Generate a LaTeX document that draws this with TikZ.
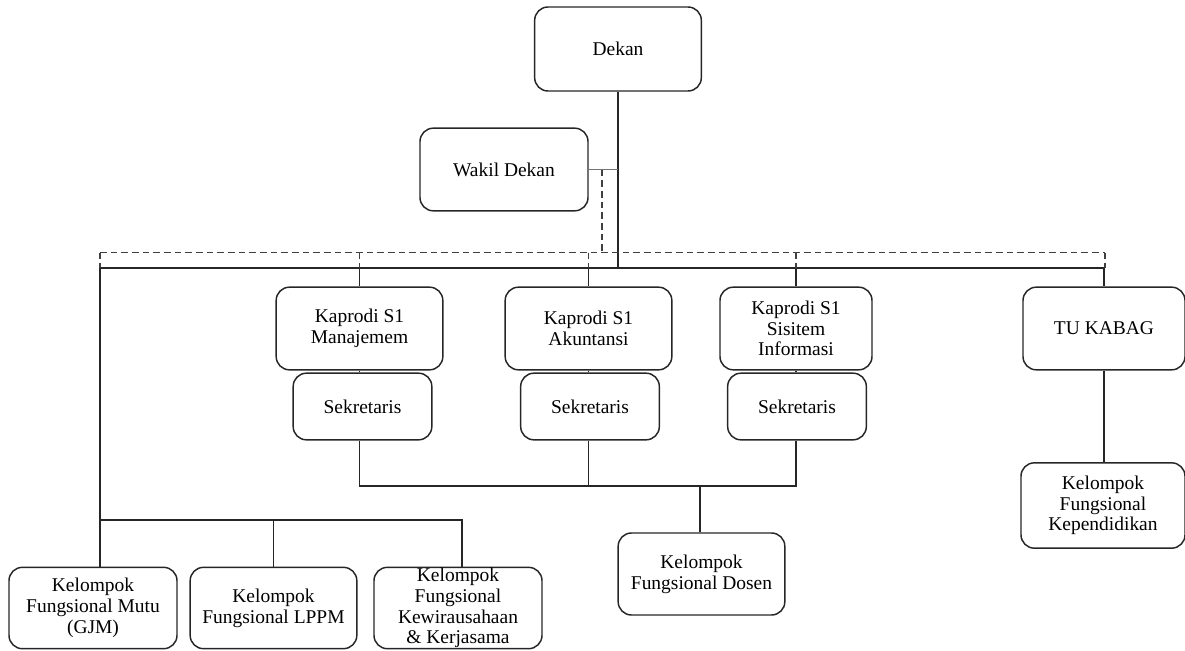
\documentclass[tikz,border=0pt]{standalone}
\usepackage{fontspec}
\setmainfont{Liberation Serif}
\begin{document}
\begin{tikzpicture}[x=0.75pt,y=-0.75pt,
  box/.style={draw=black!85, rounded corners=10pt, line width=1.1pt, align=center, inner sep=0pt,
    font=\fontsize{14.6}{15.6}\selectfont},
  conn/.style={draw=black!85, line width=1pt},
  dconn/.style={draw=black!75, line width=1pt, dash pattern=on 5pt off 3pt}]
\useasboundingbox (0,0) rectangle (1185,650);
% nodes
\node[box, minimum width=125pt, minimum height=63pt] (dekan) at (618,49) {Dekan};
\node[box, minimum width=126pt, minimum height=62pt] (wakil) at (504,169.5) {Wakil Dekan};
\node[box, minimum width=125pt, minimum height=62pt] (km) at (359.5,328.5) {Kaprodi S1\\Manajemem};
\node[box, minimum width=125pt, minimum height=62pt] (ka) at (588.5,328.5) {Kaprodi S1\\Akuntansi};
\node[box, minimum width=114pt, minimum height=62pt] (ks) at (796,328.5) {Kaprodi S1\\Sisitem\\Informasi};
\node[box, minimum width=121.5pt, minimum height=62pt] (tu) at (1104,328.5) {TU KABAG};
\node[box, minimum width=104pt, minimum height=50pt] (s1) at (362.5,406.5) {Sekretaris};
\node[box, minimum width=104pt, minimum height=50pt] (s2) at (590,406.5) {Sekretaris};
\node[box, minimum width=104pt, minimum height=50pt] (s3) at (797,406.5) {Sekretaris};
\node[box, minimum width=125pt, minimum height=61.5pt] (dosen) at (701.5,574) {Kelompok\\Fungsional Dosen};
\node[box, minimum width=123pt, minimum height=64pt] (kep) at (1103,505.5) {Kelompok\\Fungsional\\Kependidikan};
\node[box, minimum width=126pt, minimum height=61pt] (mutu) at (93,608) {Kelompok\\Fungsional Mutu\\(GJM)};
\node[box, minimum width=125pt, minimum height=61pt] (lppm) at (273.5,608) {Kelompok\\Fungsional LPPM};
\node[box, minimum width=126pt, minimum height=61pt] (kew) at (458,608) {Kelompok\\Fungsional\\Kewirausahaan\\\& Kerjasama};
% coordinates
\coordinate (busL) at (100,268);
\coordinate (busR) at (1105,268);
\coordinate (dtop) at (602,169.5);
\coordinate (dL) at (100,252.5);
\coordinate (dR) at (1105,252.5);
\coordinate (lowbus) at (100,520);
\coordinate (lowbusR) at (462,520);
\coordinate (sbus) at (700,486);
% solid connectors
\draw[conn] (dekan.south) -- (dekan.south |- busL);
\draw[conn] (busL) -- (busR);
\draw[conn] (km.north |- busL) -- (km.north);
\draw[conn] (ka.north |- busL) -- (ka.north);
\draw[conn] (ks.north |- busL) -- (ks.north);
\draw[conn] (tu.north |- busL) -- (tu.north);
\draw[conn, draw=black!55] (wakil.east) -- (wakil.east -| dekan.south);
\draw[conn] (km.south) -- (s1.north -| km.south);
\draw[conn] (ka.south) -- (s2.north -| ka.south);
\draw[conn] (ks.south) -- (s3.north -| ks.south);
\draw[conn] (s1.south -| km.south) -- (km.south |- sbus) -- (ks.south |- sbus) -- (s3.south -| ks.south);
\draw[conn] (s2.south -| ka.south) -- (ka.south |- sbus);
\draw[conn] (sbus) -- (sbus |- dosen.north);
\draw[conn] (tu.south) -- (kep.north -| tu.south);
\draw[conn] (busL) -- (busL |- mutu.north);
\draw[conn] (lowbus) -- (lowbusR) -- (lowbusR |- kew.north);
\draw[conn] (lppm.north |- lowbus) -- (lppm.north);
% dashed connectors
\draw[dconn] (dtop) -- (dtop |- dL);
\draw[dconn] (dL) -- (dR);
\draw[dconn] (dL) -- (busL);
\draw[dconn] (km.north |- dL) -- (km.north |- busL);
\draw[dconn] (ka.north |- dL) -- (ka.north |- busL);
\draw[dconn] (ks.north |- dL) -- (ks.north |- busL);
\draw[dconn] (dR) -- (busR);
\end{tikzpicture}
\end{document}
